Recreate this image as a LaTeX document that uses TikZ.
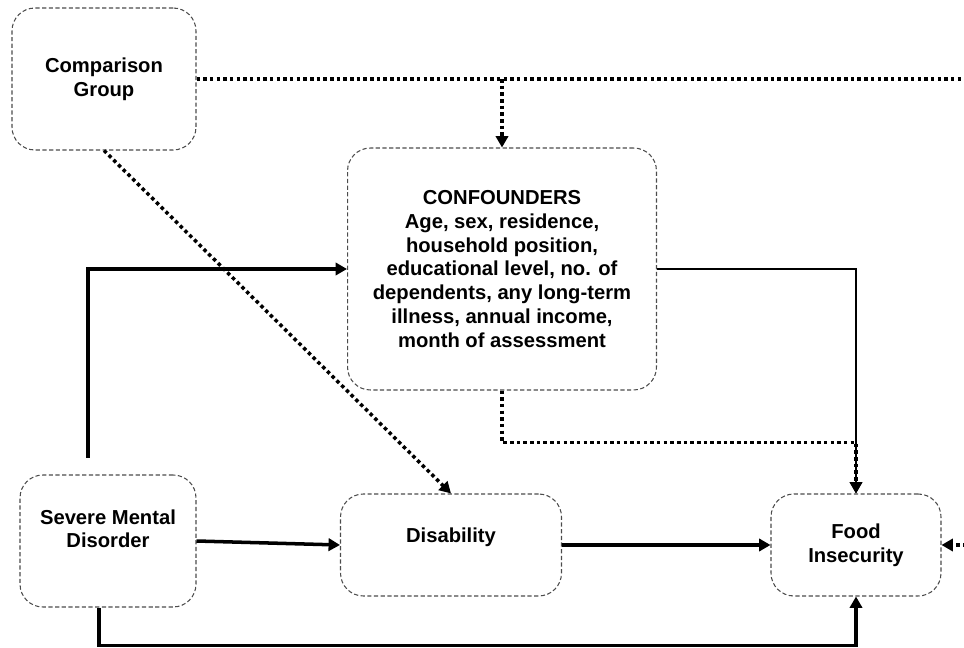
\documentclass[tikz,border=0pt]{standalone}
\usepackage{fontspec}
\setmainfont{Liberation Sans}
\usetikzlibrary{arrows.meta}

\begin{document}
\begin{tikzpicture}[x=0.02cm, y=-0.02cm, >={Triangle[length=6.5pt,width=7pt]},
  box/.style={draw=black!70, dash pattern=on 2.4pt off 1.4pt, line width=0.6pt,
    rounded corners=13pt, align=center, inner sep=2pt,
    font=\fontsize{11.5}{13.5}\selectfont\bfseries},
  boldline/.style={line width=2pt},
  thinline/.style={line width=0.8pt},
  dotline/.style={line width=2pt, dash pattern=on 2pt off 1.8pt}]
  \useasboundingbox (0,0) rectangle (964,648);

  % boxes
  \node[box, minimum width=3.68cm, minimum height=2.84cm] (cmp) at (104,79) {Comparison\\Group};
  \node[box, minimum width=6.18cm, minimum height=4.84cm] (conf) at (502,269)
    {CONFOUNDERS\\Age, sex, residence,\\household position,\\educational level, no. of\\dependents, any long-term\\illness, annual income,\\month of assessment};
  \node[box, minimum width=3.52cm, minimum height=2.64cm, text depth=14pt] (smd) at (108,541) {Severe Mental\\Disorder};
  \node[box, minimum width=4.42cm, minimum height=2.04cm, text depth=11pt] (dis) at (451,545) {Disability};
  \node[box, minimum width=3.40cm, minimum height=2.04cm] (food) at (856,545) {Food\\Insecurity};

  \coordinate (corner) at (966,79);
  \coordinate (smdtop) at (88,458);

  % comparison group paths
  \draw[dotline,->] (cmp.east) -- (corner) |- (food.east);
  \draw[dotline,->] (conf.north |- cmp.east) -- (conf.north);
  \draw[dotline,->] (cmp.south) -- (dis.north);

  % confounders to outcome
  \draw[thinline,->] (conf.east) -| (food.north);
  \draw[dotline,->] (conf.south) -- ++(0,52) -| (food.north);

  % exposure paths
  \draw[boldline,->] (smdtop) |- (conf.west);
  \draw[boldline,->] (smd.east) -- (dis.west);
  \draw[boldline,->] (dis.east) -- (food.west);
  \draw[boldline,->] ([xshift=-0.18cm]smd.south) -- ++(0,38) -| (food.south);
\end{tikzpicture}
\end{document}
